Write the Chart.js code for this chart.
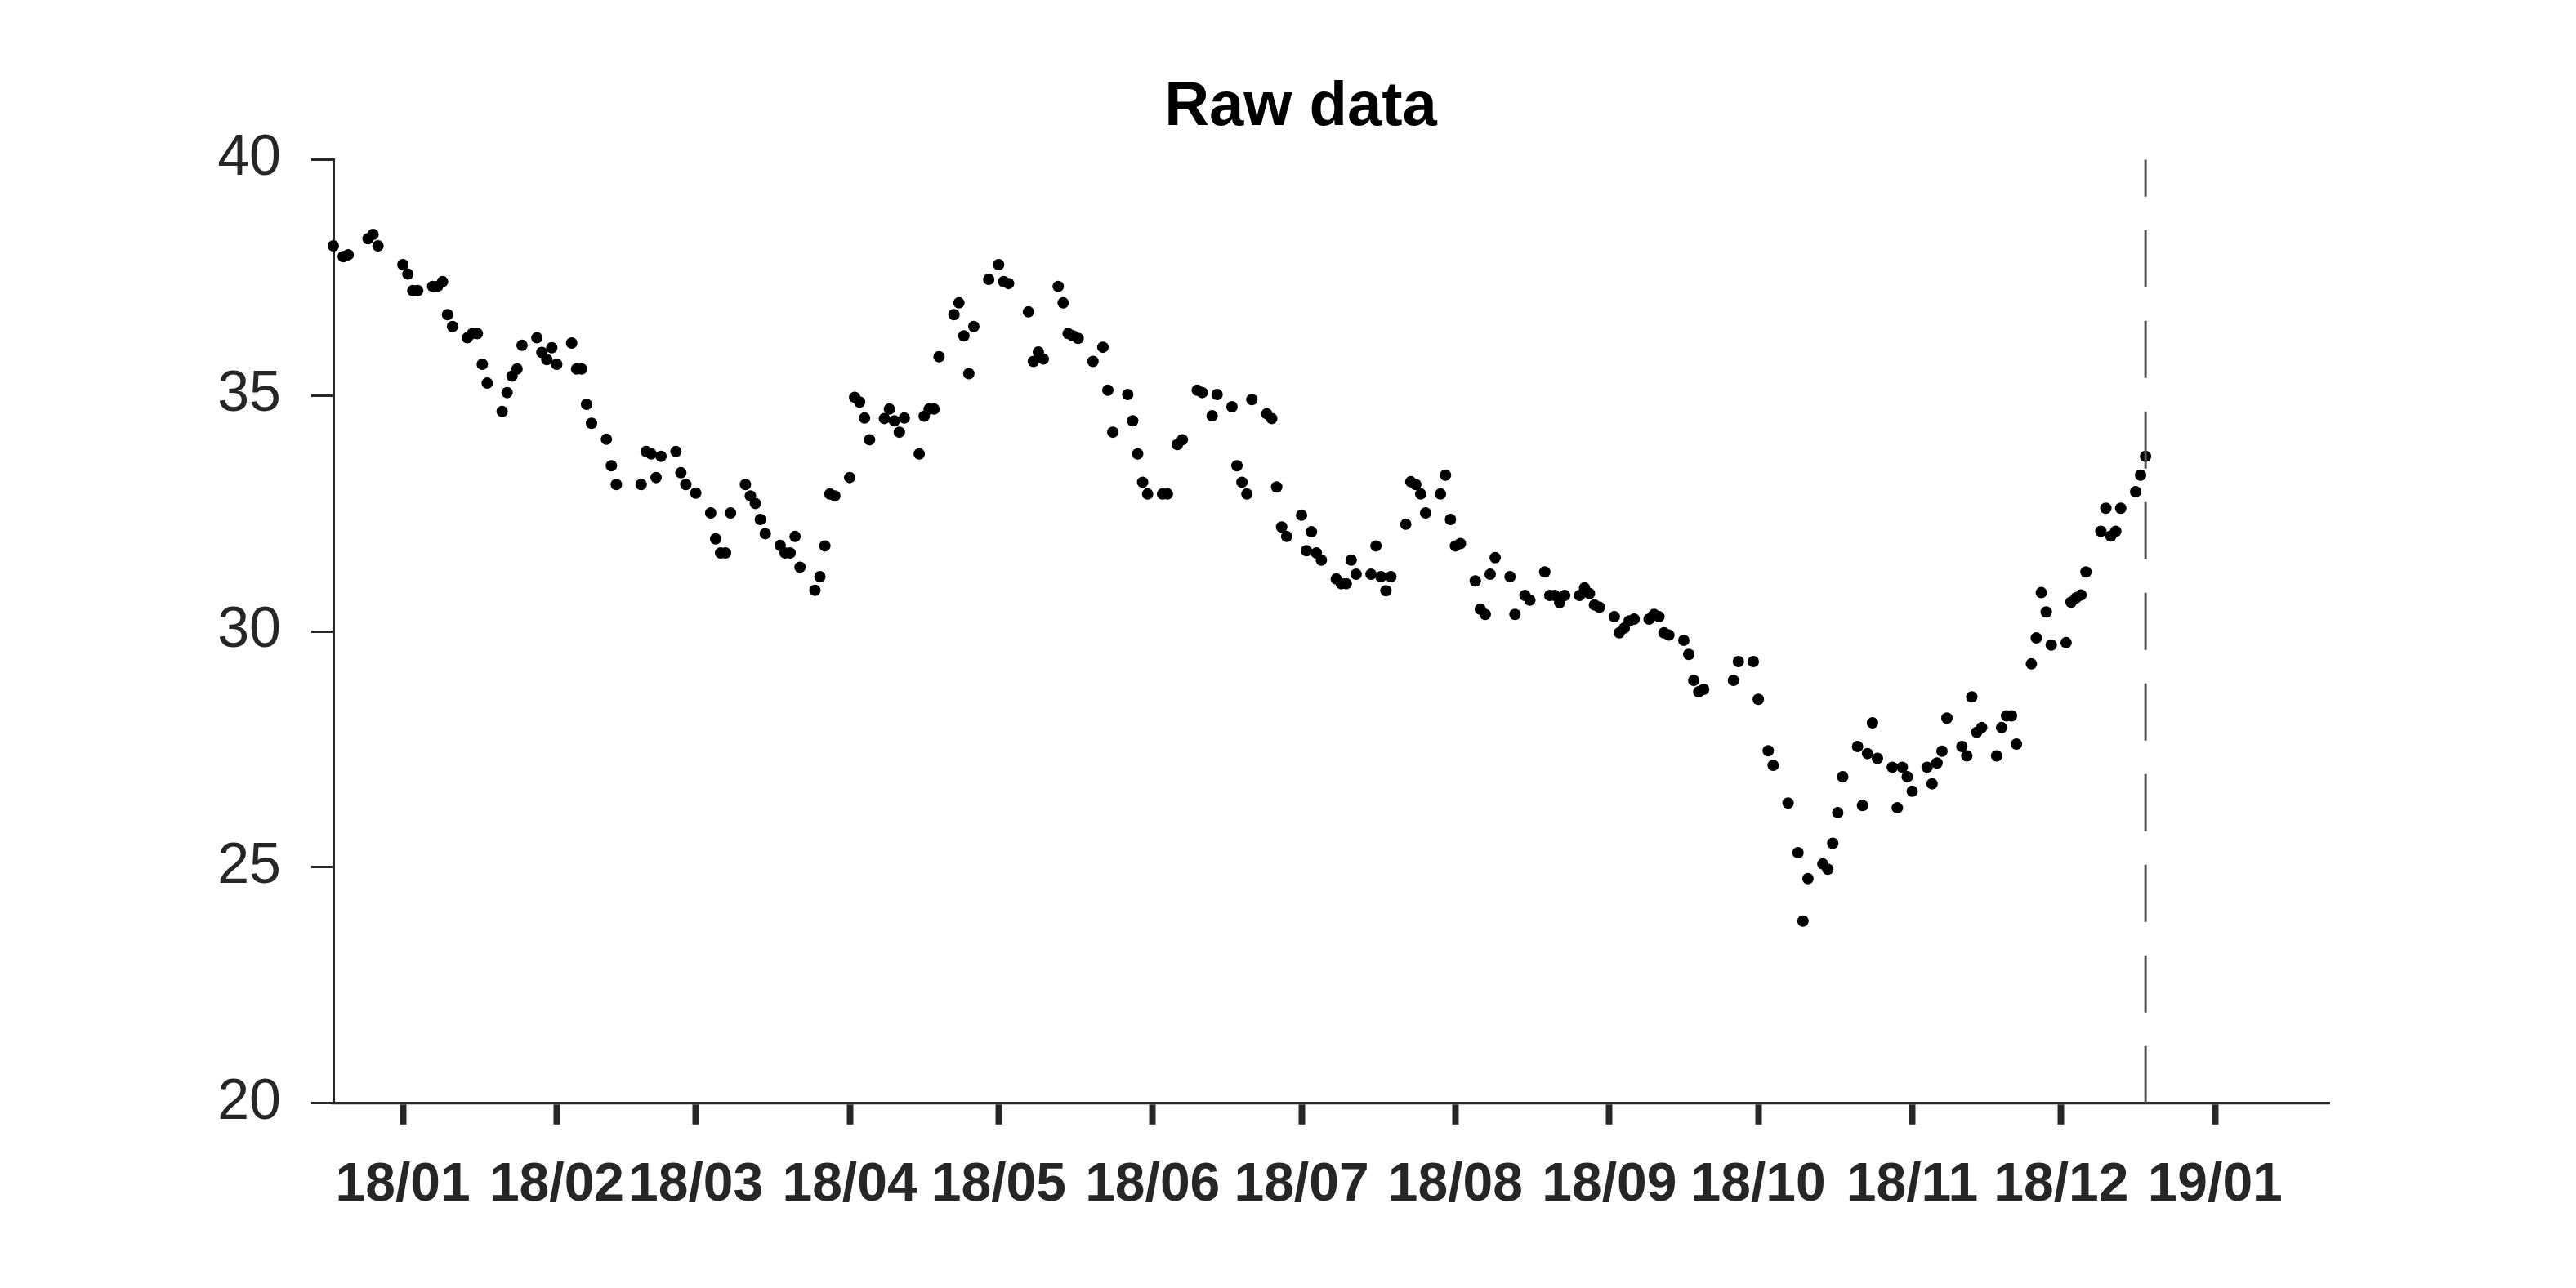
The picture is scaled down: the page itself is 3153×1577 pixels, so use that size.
<!DOCTYPE html>
<html lang="en">
<head>
    <meta charset="UTF-8">
    <title>Raw data</title>
    <script src="https://cdn.jsdelivr.net/npm/chart.js"></script>
    <style>
        body {
            margin: 0;
            background: white;
        }
        canvas {
            display: block;
        }
    </style>
</head>
<body>
<canvas id="rawChart" width="3153" height="1577"></canvas>

<script>
    // dates, one line per month
    const dates = [
        '2017-12-18', '2017-12-20', '2017-12-21', '2017-12-25', '2017-12-26', '2017-12-27',
        '2018-01-01', '2018-01-02', '2018-01-03', '2018-01-04', '2018-01-07', '2018-01-08', '2018-01-09', '2018-01-10', '2018-01-11', '2018-01-14', '2018-01-15', '2018-01-16', '2018-01-17', '2018-01-18', '2018-01-21', '2018-01-22', '2018-01-23', '2018-01-24', '2018-01-25', '2018-01-28', '2018-01-29', '2018-01-30', '2018-01-31',
        '2018-02-01', '2018-02-04', '2018-02-05', '2018-02-06', '2018-02-07', '2018-02-08', '2018-02-11', '2018-02-12', '2018-02-13', '2018-02-18', '2018-02-19', '2018-02-20', '2018-02-21', '2018-02-22', '2018-02-25', '2018-02-26', '2018-02-27',
        '2018-03-01', '2018-03-04', '2018-03-05', '2018-03-06', '2018-03-07', '2018-03-08', '2018-03-11', '2018-03-12', '2018-03-13', '2018-03-14', '2018-03-15', '2018-03-18', '2018-03-19', '2018-03-20', '2018-03-21', '2018-03-22', '2018-03-25', '2018-03-26', '2018-03-27', '2018-03-28', '2018-03-29',
        '2018-04-01', '2018-04-02', '2018-04-03', '2018-04-04', '2018-04-05', '2018-04-08', '2018-04-09', '2018-04-10', '2018-04-11', '2018-04-12', '2018-04-15', '2018-04-16', '2018-04-17', '2018-04-18', '2018-04-19', '2018-04-22', '2018-04-23', '2018-04-24', '2018-04-25', '2018-04-26', '2018-04-29',
        '2018-05-01', '2018-05-02', '2018-05-03', '2018-05-07', '2018-05-08', '2018-05-09', '2018-05-10', '2018-05-13', '2018-05-14', '2018-05-15', '2018-05-16', '2018-05-17', '2018-05-20', '2018-05-22', '2018-05-23', '2018-05-24', '2018-05-27', '2018-05-28', '2018-05-29', '2018-05-30', '2018-05-31',
        '2018-06-03', '2018-06-04', '2018-06-06', '2018-06-07', '2018-06-10', '2018-06-11', '2018-06-13', '2018-06-14', '2018-06-17', '2018-06-18', '2018-06-19', '2018-06-20', '2018-06-21', '2018-06-24', '2018-06-25', '2018-06-26', '2018-06-27', '2018-06-28',
        '2018-07-01', '2018-07-02', '2018-07-03', '2018-07-04', '2018-07-05', '2018-07-08', '2018-07-09', '2018-07-10', '2018-07-11', '2018-07-12', '2018-07-15', '2018-07-16', '2018-07-17', '2018-07-18', '2018-07-19', '2018-07-22', '2018-07-23', '2018-07-24', '2018-07-25', '2018-07-26', '2018-07-29', '2018-07-30', '2018-07-31',
        '2018-08-01', '2018-08-02', '2018-08-05', '2018-08-06', '2018-08-07', '2018-08-08', '2018-08-09', '2018-08-12', '2018-08-13', '2018-08-15', '2018-08-16', '2018-08-19', '2018-08-20', '2018-08-21', '2018-08-22', '2018-08-23', '2018-08-26', '2018-08-27', '2018-08-28', '2018-08-29', '2018-08-30',
        '2018-09-02', '2018-09-03', '2018-09-04', '2018-09-05', '2018-09-06', '2018-09-09', '2018-09-10', '2018-09-11', '2018-09-12', '2018-09-13', '2018-09-16', '2018-09-17', '2018-09-18', '2018-09-19', '2018-09-20', '2018-09-26', '2018-09-27', '2018-09-30',
        '2018-10-01', '2018-10-03', '2018-10-04', '2018-10-07', '2018-10-09', '2018-10-10', '2018-10-11', '2018-10-14', '2018-10-15', '2018-10-16', '2018-10-17', '2018-10-18', '2018-10-21', '2018-10-22', '2018-10-23', '2018-10-24', '2018-10-25', '2018-10-28', '2018-10-29', '2018-10-30', '2018-10-31',
        '2018-11-01', '2018-11-04', '2018-11-05', '2018-11-06', '2018-11-07', '2018-11-08', '2018-11-11', '2018-11-12', '2018-11-13', '2018-11-14', '2018-11-15', '2018-11-18', '2018-11-19', '2018-11-20', '2018-11-21', '2018-11-22', '2018-11-25', '2018-11-26', '2018-11-27', '2018-11-28', '2018-11-29',
        '2018-12-02', '2018-12-03', '2018-12-04', '2018-12-05', '2018-12-06', '2018-12-09', '2018-12-10', '2018-12-11', '2018-12-12', '2018-12-13', '2018-12-16', '2018-12-17', '2018-12-18'
    ];

    const values = [
        38.17, 37.94, 37.98, 38.32, 38.41, 38.17,
        37.77, 37.57, 37.22, 37.22, 37.31, 37.31, 37.41, 36.71, 36.46, 36.22, 36.31, 36.31, 35.66, 35.26, 34.66, 35.06, 35.41, 35.56, 36.06, 36.22, 35.91, 35.76, 36.01,
        35.66, 36.11, 35.56, 35.56, 34.81, 34.41, 34.07, 33.51, 33.11, 33.11, 33.81, 33.76, 33.26, 33.71, 33.81, 33.36, 33.11,
        32.93, 32.51, 31.96, 31.66, 31.66, 32.51, 33.11, 32.87, 32.71, 32.37, 32.07, 31.82, 31.66, 31.66, 32.01, 31.36, 30.87, 31.16, 31.81, 32.91, 32.87,
        33.26, 34.96, 34.86, 34.52, 34.06, 34.51, 34.71, 34.46, 34.22, 34.52, 33.76, 34.56, 34.71, 34.71, 35.82, 36.71, 36.96, 36.26, 35.46, 36.46, 37.46,
        37.77, 37.41, 37.37, 36.77, 35.72, 35.92, 35.77, 37.31, 36.96, 36.31, 36.26, 36.21, 35.72, 36.02, 35.11, 34.22, 35.02, 34.46, 33.76, 33.16, 32.91,
        32.91, 32.91, 33.96, 34.06, 35.11, 35.06, 34.57, 35.02, 34.76, 33.51, 33.16, 32.91, 34.91, 34.61, 34.51, 33.06, 32.21, 32.01,
        32.46, 31.71, 32.11, 31.66, 31.51, 31.11, 31.01, 31.01, 31.51, 31.21, 31.21, 31.81, 31.16, 30.86, 31.16, 32.27, 33.17, 33.11, 32.91, 32.51, 32.91, 33.31, 32.37,
        31.81, 31.86, 31.07, 30.47, 30.36, 31.21, 31.56, 31.16, 30.36, 30.76, 30.66, 31.26, 30.76, 30.76, 30.61, 30.76, 30.76, 30.92, 30.80, 30.56, 30.51,
        30.31, 29.97, 30.07, 30.22, 30.26, 30.26, 30.36, 30.31, 29.97, 29.92, 29.81, 29.51, 28.96, 28.72, 28.77, 28.96, 29.36, 29.36,
        28.56, 27.47, 27.16, 26.36, 25.31, 23.86, 24.76, 25.07, 24.96, 25.51, 26.16, 26.92, 27.56, 26.31, 27.41, 28.06, 27.31, 27.12, 26.26, 27.12, 26.92,
        26.61, 27.12, 26.77, 27.21, 27.46, 28.16, 27.56, 27.36, 28.61, 27.86, 27.96, 27.36, 27.96, 28.21, 28.21, 27.61, 29.31, 29.86, 30.82, 30.41, 29.71,
        29.76, 30.62, 30.71, 30.77, 31.26, 32.12, 32.61, 32.02, 32.12, 32.61, 32.96, 33.31, 33.71
    ];

    const yTicks = [20, 25, 30, 35, 40];
    const monthTicks = [
        '2018-01-01', '2018-02-01', '2018-03-01', '2018-04-01', '2018-05-01', '2018-06-01', '2018-07-01',
        '2018-08-01', '2018-09-01', '2018-10-01', '2018-11-01', '2018-12-01', '2019-01-01'
    ];
    const monthLabels = [
        '18/01', '18/02', '18/03', '18/04', '18/05', '18/06', '18/07',
        '18/08', '18/09', '18/10', '18/11', '18/12', '19/01'
    ];
    const xRange = ['2017-12-18', '2019-01-24'];

    // days counted from 1 Jan 2018, so the x axis can stay linear
    const origin = Date.parse('2018-01-01');
    const dayNum = s => (Date.parse(s) - origin) / 86400000;

    const points = dates.map((d, i) => ({ x: dayNum(d), y: values[i] }));
    const lastDay = dayNum(dates[dates.length - 1]);

    const axisColor = '#262626';
    const family = "'Liberation Sans', Arial, sans-serif";

    const ctx = document.getElementById('rawChart').getContext('2d');

    new Chart(ctx, {
        type: 'scatter',
        data: {
            datasets: [
                {
                    // dashed marker at the last date
                    type: 'line',
                    data: [
                        { x: lastDay, y: yTicks[0] },
                        { x: lastDay, y: yTicks[yTicks.length - 1] }
                    ],
                    borderColor: '#555555',
                    borderWidth: 3,
                    borderDash: [70, 41],
                    pointRadius: 0,
                    fill: false,
                    order: 0
                },
                {
                    data: points,
                    backgroundColor: '#000000',
                    borderWidth: 0,
                    pointRadius: 7,
                    pointHoverRadius: 7,
                    clip: false,
                    order: 1
                }
            ]
        },
        options: {
            responsive: false,
            animation: false,
            layout: {
                padding: { top: 0, left: 333, right: 302, bottom: 51 }
            },
            plugins: {
                legend: { display: false },
                tooltip: { enabled: false },
                title: {
                    display: true,
                    text: 'Raw data',
                    color: '#000000',
                    font: { family: family, size: 76, weight: 'bold', lineHeight: 1.2 },
                    padding: { top: 86, bottom: 18 }
                }
            },
            scales: {
                x: {
                    type: 'linear',
                    min: dayNum(xRange[0]),
                    max: dayNum(xRange[1]),
                    afterBuildTicks: scale => {
                        scale.ticks = monthTicks.map(d => ({ value: dayNum(d) }));
                    },
                    ticks: {
                        autoSkip: false,
                        maxRotation: 0,
                        minRotation: 0,
                        padding: 35,
                        color: axisColor,
                        font: { family: family, size: 66, weight: 'bold' },
                        callback: (value, index) => monthLabels[index]
                    },
                    grid: {
                        drawOnChartArea: false,
                        tickLength: 26,
                        tickWidth: 8,
                        tickColor: axisColor
                    },
                    border: { display: true, color: axisColor, width: 3.3 }
                },
                y: {
                    min: yTicks[0],
                    max: yTicks[yTicks.length - 1],
                    afterBuildTicks: scale => {
                        scale.ticks = yTicks.map(v => ({ value: v }));
                    },
                    afterFit: scale => {
                        // narrow axis box so the title centres like the original;
                        // labels may then spill left, so don't clip them
                        scale.width = 75;
                        scale._computeLabelArea = () => null;
                    },
                    ticks: {
                        padding: 37,
                        color: axisColor,
                        font: { family: family, size: 70 }
                    },
                    grid: {
                        drawOnChartArea: false,
                        tickLength: 27,
                        tickWidth: 3,
                        tickColor: axisColor
                    },
                    border: { display: true, color: axisColor, width: 3 }
                }
            }
        }
    });
</script>
</body>
</html>
